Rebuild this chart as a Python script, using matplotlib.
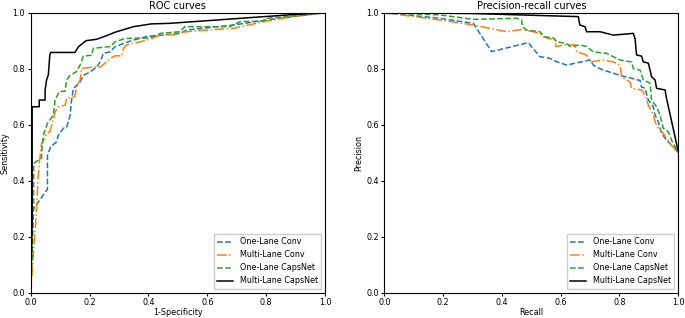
import matplotlib.pyplot as plt

# ROC curves (1-specificity, sensitivity)
roc_one_conv_x = [0.0, 0.003, 0.003, 0.057, 0.057, 0.068, 0.088, 0.094, 0.111, 0.122, 0.134, 0.139, 0.145,
                  0.156, 0.168, 0.179, 0.202, 0.224, 0.236, 0.247, 0.27, 0.287, 0.315, 0.349, 0.394, 0.507,
                  0.53, 0.689, 0.802, 1.0]
roc_one_conv_y = [0.0, 0.1, 0.29, 0.37, 0.49, 0.521, 0.539, 0.563, 0.587, 0.59, 0.634, 0.688, 0.73,
                  0.74, 0.752, 0.776, 0.788, 0.806, 0.824, 0.855, 0.86, 0.879, 0.89, 0.902, 0.915, 0.926,
                  0.938, 0.956, 0.974, 1.0]

roc_multi_conv_x = [0.0, 0.01, 0.017, 0.024, 0.029, 0.037, 0.054, 0.065, 0.077, 0.083, 0.094, 0.117, 0.122,
                    0.15, 0.156, 0.168, 0.173, 0.213, 0.236, 0.258, 0.27, 0.287, 0.309, 0.315, 0.326, 0.343,
                    0.372, 0.405, 0.44, 0.496, 0.513, 0.575, 0.689, 0.802, 0.915, 1.0]
roc_multi_conv_y = [0.0, 0.152, 0.248, 0.39, 0.46, 0.533, 0.564, 0.575, 0.617, 0.646, 0.664, 0.67, 0.694,
                    0.7, 0.736, 0.76, 0.801, 0.806, 0.806, 0.824, 0.836, 0.846, 0.846, 0.873, 0.885, 0.89,
                    0.896, 0.905, 0.92, 0.922, 0.93, 0.936, 0.944, 0.97, 0.99, 1.0]

roc_one_caps_x = [0.0, 0.01, 0.01, 0.037, 0.037, 0.043, 0.057, 0.077, 0.083, 0.097, 0.117, 0.122, 0.134,
                  0.156, 0.168, 0.179, 0.207, 0.213, 0.27, 0.287, 0.321, 0.405, 0.44, 0.507, 0.524, 0.677,
                  0.711, 0.79, 0.802, 0.915, 1.0]
roc_one_caps_y = [0.0, 0.3, 0.462, 0.48, 0.5, 0.563, 0.605, 0.634, 0.688, 0.718, 0.72, 0.76, 0.776,
                  0.79, 0.813, 0.845, 0.848, 0.873, 0.879, 0.896, 0.908, 0.91, 0.926, 0.932, 0.95, 0.95,
                  0.968, 0.97, 0.98, 0.99, 1.0]

roc_multi_caps_x = [0.0, 0.005, 0.005, 0.029, 0.029, 0.049, 0.049, 0.054, 0.06, 0.065, 0.068, 0.15, 0.163,
                    0.188, 0.224, 0.258, 0.286, 0.349, 0.41, 0.473, 0.915, 1.0]
roc_multi_caps_y = [0.0, 0.25, 0.664, 0.664, 0.688, 0.688, 0.724, 0.76, 0.778, 0.849, 0.858, 0.858, 0.879,
                    0.9, 0.905, 0.918, 0.93, 0.95, 0.96, 0.962, 0.995, 1.0]

# Precision-recall curves (recall, precision)
pr_one_conv_x = [0.0, 0.189, 0.303, 0.365, 0.49, 0.529, 0.563, 0.586, 0.62, 0.7, 0.711, 0.722, 0.745,
                 0.802, 0.847, 0.87, 0.875, 0.887, 0.898, 0.915, 0.921, 0.932, 0.943, 0.96, 0.983, 1.0]
pr_one_conv_y = [1.0, 0.98, 0.962, 0.861, 0.893, 0.843, 0.837, 0.825, 0.813, 0.831, 0.813, 0.806, 0.795,
                 0.776, 0.764, 0.758, 0.734, 0.73, 0.688, 0.664, 0.634, 0.61, 0.569, 0.545, 0.521, 0.5]

pr_multi_conv_x = [0.0, 0.189, 0.303, 0.416, 0.467, 0.507, 0.529, 0.541, 0.558, 0.58, 0.584, 0.609, 0.649,
                   0.654, 0.688, 0.7, 0.745, 0.779, 0.802, 0.807, 0.836, 0.841, 0.875, 0.887, 0.898, 0.915,
                   0.921, 0.932, 0.949, 0.972, 1.0]
pr_multi_conv_y = [1.0, 0.974, 0.956, 0.932, 0.94, 0.932, 0.926, 0.914, 0.908, 0.905, 0.879, 0.885, 0.885,
                   0.861, 0.849, 0.824, 0.831, 0.824, 0.813, 0.771, 0.752, 0.73, 0.724, 0.706, 0.67, 0.634,
                   0.61, 0.587, 0.569, 0.533, 0.5]

pr_one_caps_x = [0.0, 0.189, 0.303, 0.45, 0.467, 0.47, 0.484, 0.529, 0.546, 0.575, 0.586, 0.62, 0.632,
                 0.666, 0.688, 0.711, 0.756, 0.802, 0.841, 0.847, 0.87, 0.881, 0.904, 0.909, 0.926, 0.938,
                 0.949, 0.966, 0.977, 1.0]
pr_one_caps_y = [1.0, 0.992, 0.976, 0.98, 0.975, 0.95, 0.938, 0.932, 0.914, 0.91, 0.896, 0.89, 0.879,
                 0.885, 0.879, 0.86, 0.855, 0.831, 0.824, 0.8, 0.795, 0.76, 0.748, 0.688, 0.664, 0.634,
                 0.587, 0.575, 0.545, 0.5]

pr_multi_caps_x = [0.0, 0.3, 0.66, 0.665, 0.683, 0.688, 0.734, 0.756, 0.779, 0.847, 0.853, 0.858, 0.875,
                   0.881, 0.898, 0.904, 0.909, 0.921, 0.926, 0.955, 0.96, 1.0]
pr_multi_caps_y = [1.0, 0.997, 0.986, 0.956, 0.95, 0.932, 0.932, 0.926, 0.92, 0.926, 0.908, 0.849, 0.845,
                   0.824, 0.82, 0.795, 0.771, 0.76, 0.73, 0.724, 0.694, 0.504]

labels = ['One-Lane Conv', 'Multi-Lane Conv', 'One-Lane CapsNet', 'Multi-Lane CapsNet']
colors = ['#1f77b4', '#ff7f0e', '#2ca02c', 'black']
styles = ['--', '-.', '--', '-']

plt.rcParams['font.size'] = 5.8
fig = plt.figure(figsize=(6.85, 3.18), dpi=100)
ax1 = fig.add_axes([0.0448, 0.0796, 0.4296, 0.8805])
ax2 = fig.add_axes([0.561, 0.0796, 0.4292, 0.8805])

roc = [(roc_one_conv_x, roc_one_conv_y), (roc_multi_conv_x, roc_multi_conv_y),
       (roc_one_caps_x, roc_one_caps_y), (roc_multi_caps_x, roc_multi_caps_y)]
pr = [(pr_one_conv_x, pr_one_conv_y), (pr_multi_conv_x, pr_multi_conv_y),
      (pr_one_caps_x, pr_one_caps_y), (pr_multi_caps_x, pr_multi_caps_y)]

for (x, y), lab, c, ls in zip(roc, labels, colors, styles):
    ax1.plot(x, y, color=c, linestyle=ls, linewidth=1.1, label=lab)
for (x, y), lab, c, ls in zip(pr, labels, colors, styles):
    ax2.plot(x, y, color=c, linestyle=ls, linewidth=1.1, label=lab)

ax1.set_title('ROC curves', fontsize=7, pad=3)
ax1.set_xlabel('1-Specificity', labelpad=0.5)
ax1.set_ylabel('Sensitivity', labelpad=2)
ax2.set_title('Precision-recall curves', fontsize=7, pad=3)
ax2.set_xlabel('Recall', labelpad=0.5)
ax2.set_ylabel('Precision', labelpad=2)

for ax in (ax1, ax2):
    ax.set_xlim(0, 1)
    ax.set_ylim(0, 1)
    ax.tick_params(labelsize=5.8, length=2.5, pad=1.5)
    ax.legend(loc='lower right', fontsize=5.8, fancybox=False, framealpha=1, edgecolor='#cccccc')

fig.savefig('out.png', dpi=100)
